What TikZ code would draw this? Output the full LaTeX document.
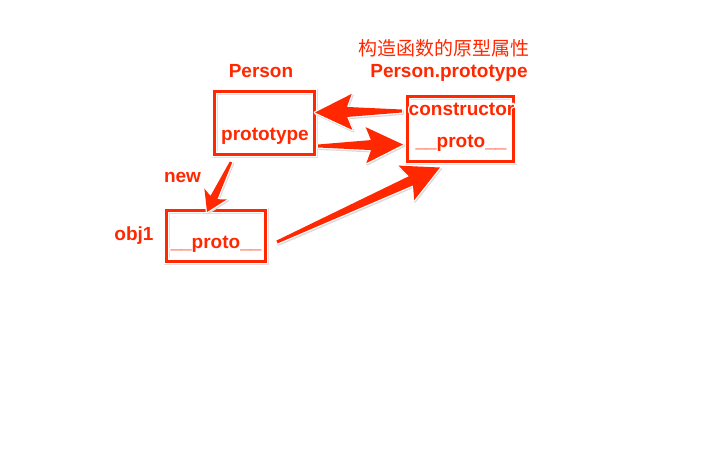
\documentclass[tikz,border=0pt]{standalone}
\usepackage{fontspec}
\setmainfont{Liberation Sans}
\newfontfamily\cjkfont{Noto Sans CJK SC}
\usetikzlibrary{calc}
\definecolor{skred}{RGB}{255,40,0}
\tikzset{
  lbl/.style={font=\fontsize{19}{22}\selectfont\bfseries, inner sep=0pt, anchor=base, text=skred},
  cjklbl/.style={font=\fontsize{19}{22}\selectfont\cjkfont, inner sep=0pt, anchor=base, text=skred},
  skbox/.style={draw=skred, line width=3pt, inner sep=0pt,
    preaction={draw=black!12, line width=6pt, transform canvas={shift={(0.8pt,-1.2pt)}}},
    preaction={draw=white, line width=6pt}},
  skfill/.style={fill=skred,
    preaction={fill=black!15, draw=black!15, line width=2.4pt, line join=round, transform canvas={shift={(0.8pt,-1.2pt)}}},
    preaction={draw=white, line width=2.4pt, line join=round}},
}
\newcommand\sklabel[4]{%
  \foreach \a in {0,30,...,330} {\node[#2, text=white] at ($(#3)+(\a:1.3pt)$) {#4};}
  \node[#2] (#1) at (#3) {#4};
}
\newcommand\skarrow[7]{%
  \path let \p1=($(#2)-(#1)$) in \pgfextra{\pgfmathsetmacro\skang{atan2(\y1,\x1)}\pgfmathsetmacro\sklen{veclen(\x1,\y1)}\xdef\skang{\skang}\xdef\sklen{\sklen}};
  \begin{scope}[shift={(#1)}, rotate=\skang]
    \fill[skfill] (0,#7) -- ({\sklen-#5},#6) -- ({\sklen-#3},#4) -- (\sklen,0)
      -- ({\sklen-#3},-#4) -- ({\sklen-#5},-#6) -- (0,-#7) -- cycle;
  \end{scope}
}
\begin{document}
\begin{tikzpicture}[x=1pt,y=-1pt]
\fill[white] (0,0) rectangle (720,464);
\useasboundingbox (0,0) rectangle (720,464);

% boxes
\node[skbox, minimum width=100pt, minimum height=63pt] (pbox) at (264,122.5) {};
\node[skbox, minimum width=106pt, minimum height=65pt] (ppbox) at (460.5,128.5) {};
\node[skbox, minimum width=99pt, minimum height=51pt] (obox) at (215.5,235.5) {};

% connector ends
\coordinate (t1) at (402,111);
\coordinate (h1) at (315,112.5);
\coordinate (t2) at (318,146);
\coordinate (h2) at (403,144.5);
\coordinate (t3) at (231,162);
\coordinate (h3) at (207,212);
\coordinate (t4) at (277,242);
\coordinate (h4) at (440,167.5);

% arrows
\skarrow{t1}{h1}{37}{18}{32}{5}{1.5}
\skarrow{t2}{h2}{37}{18}{32}{5}{1.5}
\skarrow{t3}{h3}{20}{12.5}{16}{3.8}{1.3}
\skarrow{t4}{h4}{37}{19}{32}{5}{1.5}

% labels
\sklabel{cjk}{cjklbl}{444,55.5}{构造函数的原型属性}
\sklabel{pptitle}{lbl}{449,77}{Person.prototype}
\sklabel{ptitle}{lbl}{261,77}{Person}
\sklabel{pproto}{lbl}{265,140}{prototype}
\sklabel{ctor}{lbl}{461.5,115}{constructor}
\sklabel{pp}{lbl}{461,147}{\_\_proto\_\_}
\sklabel{newl}{lbl}{182.5,182}{new}
\sklabel{objl}{lbl}{134,240}{obj1}
\sklabel{op}{lbl}{216,248}{\_\_proto\_\_}
\end{tikzpicture}
\end{document}
